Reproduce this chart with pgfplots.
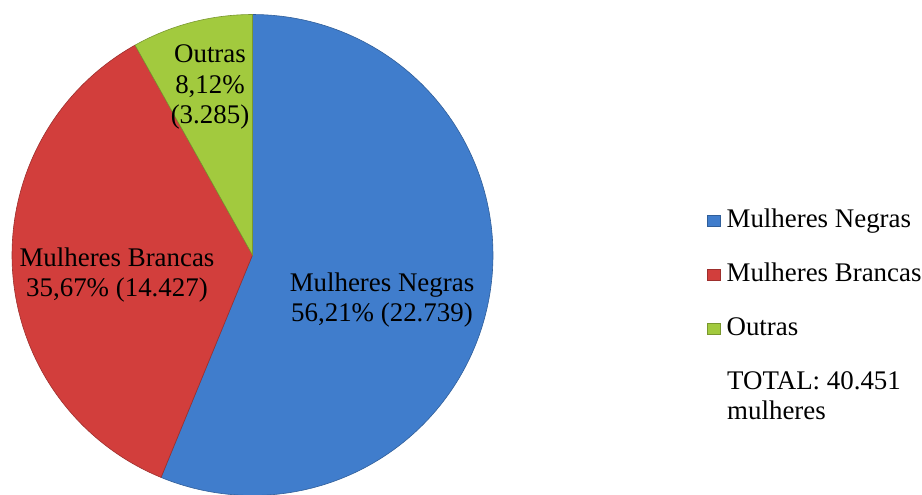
\documentclass[border=0pt]{standalone}
\usepackage{pgfplots}
\pgfplotsset{compat=1.18}
\usepackage{fontspec}
\setmainfont{Liberation Serif}
\definecolor{cNeg}{RGB}{64,125,204}
\definecolor{cBra}{RGB}{210,62,60}
\definecolor{cOut}{RGB}{162,202,62}
\newcommand{\lbl}{\fontsize{27}{31}\selectfont}
\begin{document}
\begin{tikzpicture}
% percentages of the three groups
\pgfmathsetmacro{\pA}{56.21}
\pgfmathsetmacro{\pB}{35.67}
\pgfmathsetmacro{\pC}{8.12}
\pgfmathsetmacro{\aA}{90}
\pgfmathsetmacro{\aB}{90-3.6*\pA}
\pgfmathsetmacro{\aC}{\aB-3.6*\pB}
\pgfmathsetmacro{\aD}{\aC-3.6*\pC}
\begin{axis}[
  x=1bp, y=1bp,
  xmin=0, xmax=922, ymin=0, ymax=495,
  hide axis, clip=false,
  legend cell align=left,
  legend image code/.code={\fill[#1] (0bp,-5.5bp) rectangle (13bp,5.5bp);},
  legend style={at={(axis cs:707,286)}, anchor=north west, draw=none, fill=none,
    inner sep=0pt, outer sep=0pt, row sep=30bp, column sep=6bp,
    font=\lbl, nodes={inner sep=0pt, text height=18bp, text depth=6bp}},
]
\addplot[fill=cNeg, draw=cNeg!75!black, line width=0.6bp, domain=\aB:\aA, samples=150]
  ({252.5+240.5*cos(x)},{240+240.5*sin(x)}) -- (252.5,240) -- cycle;
\addlegendentry{Mulheres Negras}
\addplot[fill=cBra, draw=cBra!75!black, line width=0.6bp, domain=\aC:\aB, samples=120]
  ({252.5+240.5*cos(x)},{240+240.5*sin(x)}) -- (252.5,240) -- cycle;
\addlegendentry{Mulheres Brancas}
\addplot[fill=cOut, draw=cOut!75!black, line width=0.6bp, domain=\aD:\aC, samples=40]
  ({252.5+240.5*cos(x)},{240+240.5*sin(x)}) -- (252.5,240) -- cycle;
\addlegendentry{Outras}
\node[font=\lbl, align=center, inner sep=0pt] at (axis cs:382,195) {Mulheres Negras\\56,21\% (22.739)};
\node[font=\lbl, align=center, inner sep=0pt] at (axis cs:117,220) {Mulheres Brancas\\35,67\% (14.427)};
\node[font=\lbl, align=center, inner sep=0pt] at (axis cs:210,408) {Outras\\8,12\%\\(3.285)};
\node[font=\lbl, align=left, inner sep=0pt, anchor=north west] at (axis cs:727,124) {TOTAL: 40.451\\mulheres};
\end{axis}
\pgfresetboundingbox
\useasboundingbox (0,0) rectangle (922bp,495bp);
\end{tikzpicture}
\end{document}
